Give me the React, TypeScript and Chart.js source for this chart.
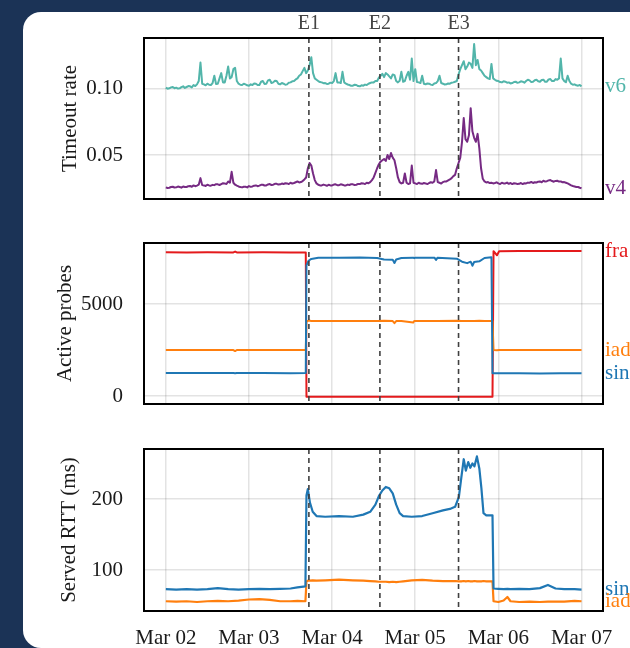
import React, { useEffect, useRef } from "react";
import { Chart, registerables } from "chart.js";

Chart.register(...registerables);

// ---------------- data ----------------
const DAY_HOURS = [0, 24, 48, 72, 96, 120];
const DAY_LABELS = ["Mar 02", "Mar 03", "Mar 04", "Mar 05", "Mar 06", "Mar 07"];
const EVENT_HOURS = [41.3, 61.8, 84.5];
const EVENT_LABELS = ["E1", "E2", "E3"];

// timeout rate sampled every 30 minutes, sample 0 = Mar 02 00:00
const TIMEOUT_STEP_HOURS = 0.5;
const TIMEOUT_V6 = [
  0.101, 0.1002, 0.1005, 0.1012, 0.1015, 0.1006, 0.101, 0.1003, 0.1005, 0.1014, 0.102, 0.1008,
  0.1015, 0.1022, 0.102, 0.1012, 0.103, 0.1022, 0.1035, 0.106, 0.12, 0.104, 0.1035, 0.1028,
  0.104, 0.1032, 0.103, 0.1045, 0.11, 0.1038, 0.104, 0.108, 0.112, 0.105, 0.105, 0.11,
  0.117, 0.108, 0.109, 0.115, 0.116, 0.106, 0.104, 0.1032, 0.103, 0.104, 0.1035, 0.1028,
  0.1025, 0.1035, 0.103, 0.1042, 0.104, 0.103, 0.103, 0.1055, 0.106, 0.1038, 0.104, 0.1065,
  0.107, 0.1045, 0.105, 0.1062, 0.106, 0.104, 0.1035, 0.1045, 0.104, 0.1032, 0.1035, 0.1048,
  0.105, 0.1058, 0.106, 0.1072, 0.108, 0.11, 0.111, 0.1135, 0.116, 0.112, 0.114, 0.118,
  0.124, 0.112, 0.108, 0.107, 0.106, 0.1052, 0.105, 0.1044, 0.1045, 0.1038, 0.104, 0.1048,
  0.1045, 0.106, 0.112, 0.105, 0.105, 0.1045, 0.113, 0.105, 0.104, 0.1034, 0.103, 0.1024,
  0.1025, 0.1032, 0.103, 0.1022, 0.102, 0.1028, 0.1025, 0.1033, 0.103, 0.104, 0.1045, 0.105,
  0.105, 0.106, 0.106, 0.1085, 0.11, 0.1115, 0.109, 0.112, 0.111, 0.1095, 0.108, 0.111,
  0.1105, 0.106, 0.105, 0.1062, 0.113, 0.1055, 0.106, 0.11, 0.113, 0.107, 0.123, 0.106,
  0.115, 0.1052, 0.105, 0.1045, 0.11, 0.104, 0.1035, 0.1042, 0.104, 0.1033, 0.103, 0.1042,
  0.1045, 0.106, 0.11, 0.1045, 0.104, 0.1034, 0.1035, 0.1042, 0.104, 0.1048, 0.105, 0.1055,
  0.106, 0.111, 0.115, 0.118, 0.121, 0.115, 0.117, 0.12, 0.119, 0.116, 0.134, 0.118,
  0.122, 0.115, 0.114, 0.112, 0.11, 0.109, 0.108, 0.1075, 0.119, 0.108, 0.107, 0.1062,
  0.106, 0.1052, 0.105, 0.1058, 0.1055, 0.1048, 0.105, 0.1042, 0.1045, 0.1053, 0.1055, 0.1047,
  0.105, 0.1058, 0.1055, 0.1048, 0.106, 0.107, 0.1065, 0.1052, 0.1055, 0.1066, 0.107, 0.1058,
  0.1055, 0.1068, 0.107, 0.1054, 0.1055, 0.1072, 0.1075, 0.106, 0.106, 0.1075, 0.107, 0.108,
  0.123, 0.108, 0.106, 0.1052, 0.11, 0.106, 0.104, 0.1032, 0.1035, 0.1028, 0.1025, 0.103,
  0.102,
];
const TIMEOUT_V4 = [
  0.0255, 0.025, 0.0252, 0.0258, 0.026, 0.0254, 0.0255, 0.0261, 0.0258, 0.0253, 0.0262, 0.0258,
  0.0258, 0.0264, 0.0265, 0.026, 0.027, 0.0264, 0.0268, 0.0275, 0.0325, 0.0272, 0.027, 0.0266,
  0.0275, 0.027, 0.0268, 0.0274, 0.0272, 0.0279, 0.0278, 0.0273, 0.028, 0.0286, 0.0285, 0.028,
  0.03, 0.029, 0.0373, 0.029, 0.0275, 0.0268, 0.0262, 0.0257, 0.0255, 0.026, 0.026, 0.0255,
  0.0265, 0.0259, 0.0262, 0.0268, 0.027, 0.0264, 0.0268, 0.0274, 0.0275, 0.0269, 0.027, 0.0277,
  0.028, 0.0273, 0.0275, 0.0282, 0.0282, 0.0276, 0.0278, 0.0284, 0.028, 0.0287, 0.0285, 0.028,
  0.029, 0.0284, 0.0288, 0.0294, 0.03, 0.0292, 0.0295, 0.0303, 0.0315, 0.033, 0.04, 0.044,
  0.042, 0.036, 0.031, 0.0285, 0.0275, 0.027, 0.027, 0.0276, 0.0272, 0.0267, 0.0275, 0.027,
  0.027, 0.0276, 0.0278, 0.0272, 0.0272, 0.0278, 0.0275, 0.027, 0.027, 0.0276, 0.0273, 0.0279,
  0.0278, 0.0273, 0.0275, 0.0281, 0.028, 0.0286, 0.0285, 0.028, 0.029, 0.0286, 0.0295, 0.031,
  0.033, 0.0365, 0.04, 0.043, 0.045, 0.046, 0.047, 0.0455, 0.05, 0.047, 0.0515, 0.048,
  0.046, 0.04, 0.033, 0.0295, 0.0285, 0.029, 0.036, 0.029, 0.028, 0.0286, 0.042, 0.029,
  0.0285, 0.028, 0.029, 0.0284, 0.0282, 0.0288, 0.0285, 0.028, 0.0288, 0.0294, 0.029, 0.03,
  0.0386, 0.0295, 0.029, 0.0284, 0.0295, 0.03, 0.03, 0.0308, 0.0315, 0.0325, 0.034, 0.035,
  0.04, 0.044, 0.048, 0.06, 0.078, 0.062, 0.06, 0.065, 0.0855, 0.068, 0.063, 0.06,
  0.066, 0.055, 0.04, 0.032, 0.03, 0.0292, 0.0295, 0.0288, 0.029, 0.0285, 0.0288, 0.0293,
  0.0285, 0.028, 0.029, 0.0285, 0.0285, 0.0291, 0.0282, 0.0288, 0.028, 0.0286, 0.0285, 0.028,
  0.0282, 0.0288, 0.028, 0.0286, 0.0285, 0.0291, 0.029, 0.0296, 0.0288, 0.0294, 0.0292, 0.0298,
  0.03, 0.0294, 0.0305, 0.0299, 0.0302, 0.0308, 0.031, 0.0303, 0.0298, 0.0304, 0.0305, 0.0299,
  0.03, 0.0294, 0.0295, 0.029, 0.0285, 0.0278, 0.027, 0.0265, 0.0262, 0.0258, 0.0258, 0.0252,
  0.0248,
];

const PROBE_HOURS = [
  0, 6, 12, 19.5, 20, 20.5, 28, 36, 40.4, 40.6, 41.2, 42, 44, 50, 56, 61, 63, 65.5, 66, 66.5, 68,
  71.4, 71.7, 72, 77.6, 78, 78.4, 84, 85.5, 87, 88, 88.5, 89, 90.5, 92, 94, 94.3, 94.6, 95.6, 96.2,
  102, 108, 114, 120,
];
const PROBES_FRA = [
  7810, 7800, 7815, 7805, 7850, 7805, 7810, 7800, 7805, -40, -40, -40, -40, -40, -40, -40, -40, -40, -40, -40, -40,
  -40, -40, -40, -40, -40, -40, -40, -40, -40, -40, -40, -40, -40, -40, -40, -40, 7870, 7650, 7870,
  7880, 7875, 7885, 7880,
];
const PROBES_IAD = [
  2500, 2500, 2505, 2495, 2440, 2500, 2505, 2500, 2500, 4050, 4100, 4080, 4070, 4080, 4075, 4080, 4085, 4070, 3960, 4070, 4075,
  3990, 4075, 4070, 4080, 4075, 4080, 4085, 4080, 4075, 4080, 4070, 4080, 4085, 4080, 4080, 4080, 2500, 2490, 2500,
  2500, 2505, 2500, 2500,
];
const PROBES_SIN = [
  1250, 1255, 1245, 1250, 1235, 1250, 1245, 1240, 1245, 7100, 7350, 7450, 7510, 7520, 7530, 7500, 7420, 7400, 7230, 7420, 7500,
  7520, 7490, 7520, 7510, 7400, 7510, 7460, 7300, 7220, 7300, 7080, 7280, 7320, 7500, 7540, 1240, 1230, 1240, 1235,
  1230, 1225, 1230, 1230,
];

const RTT_HOURS = [
  0, 3, 6, 9, 12, 15, 18, 21, 24, 27, 30, 33, 36, 38, 40.3, 40.6, 41, 41.6, 42.4, 43.5, 46, 50, 54, 57, 59,
  60.5, 61.5, 62.5, 63.5, 64.5, 65.5, 66.5, 67.5, 68.5, 71, 74, 77, 80, 82, 83.5, 84.6, 85.3, 86, 86.6,
  87.3, 87.9, 88.5, 89.1, 89.8, 90.5, 91.1, 91.7, 92.5, 94.3, 94.6, 96, 97.5, 98.6, 99.5, 102, 105, 108,
  110.3, 112.5, 115, 118, 120,
];
const RTT_SIN = [
  73, 72.5, 73, 72.5, 73, 74.5, 73, 72.5, 73, 73.5, 73, 73.5, 74, 75.5, 77, 205, 214, 195, 182, 176, 175, 176, 175, 178, 182,
  192, 204, 212, 217, 215, 208, 192, 180, 176, 175, 176, 180, 184, 186, 189, 203, 230, 256, 240,
  252, 244, 250, 246, 260, 243, 215, 180, 177, 177, 74, 73.5, 73, 73.5, 73, 73.5, 73, 74.5,
  79, 74, 73, 73, 72.5,
];
const RTT_IAD = [
  56, 55.5, 56, 55, 56, 56.5, 56, 57, 58.5, 59, 58, 56, 56, 56.5, 56, 84, 85, 85, 85.5, 85, 85.5, 86.5, 85.5, 85, 84.5,
  84, 83.5, 83.5, 83.5, 83, 83.5, 83, 83.5, 84, 85.5, 86, 85, 84.5, 84.5, 84.5, 84, 84, 84.5, 84,
  84.5, 84, 84, 84.5, 84, 84, 84, 84.5, 84, 84, 56, 55, 57, 62, 56, 55, 55.5, 55,
  55.5, 55.5, 55.5, 56.5, 56,
];

const TIMEOUT_TICKS = [0.05, 0.1];
const TIMEOUT_TICK_LABELS = ["0.05", "0.10"];
const PROBE_TICKS = [0, 5000];
const PROBE_TICK_LABELS = ["0", "5000"];
const RTT_TICKS = [100, 200];
const RTT_TICK_LABELS = ["100", "200"];

// ---------------- styling ----------------
const FONT = '"Liberation Serif", "DejaVu Serif", serif';
const TEXT = "#1a1a1a";
const GRID = "rgba(0,0,0,0.11)";
const NAVY = "#1b3356";
const C_V6 = "#52b5aa";
const C_V4 = "#762a83";
const C_FRA = "#e41a1c";
const C_IAD = "#ff7f0e";
const C_SIN = "#1f77b4";

const X_MIN = -6.3;
const X_MAX = 126.2;

const decorPlugin = {
  id: "decor",
  afterDatasetsDraw(chart: any) {
    const { ctx, chartArea: a, scales } = chart;
    ctx.save();
    ctx.strokeStyle = "#404040";
    ctx.lineWidth = 1.6;
    ctx.setLineDash([5, 4]);
    EVENT_HOURS.forEach((h) => {
      const px = scales.x.getPixelForValue(h);
      ctx.beginPath();
      ctx.moveTo(px, a.top);
      ctx.lineTo(px, a.bottom);
      ctx.stroke();
    });
    ctx.restore();
  },
  afterDraw(chart: any, _args: any, opts: any) {
    const { ctx, chartArea: a, scales } = chart;
    ctx.save();
    ctx.strokeStyle = "#000";
    ctx.lineWidth = 2;
    ctx.strokeRect(a.left, a.top, a.right - a.left, a.bottom - a.top);
    if (opts.eventLabels) {
      ctx.fillStyle = "#444";
      ctx.font = `20px ${FONT}`;
      ctx.textAlign = "center";
      ctx.textBaseline = "alphabetic";
      EVENT_HOURS.forEach((h, i) => {
        ctx.fillText(EVENT_LABELS[i], scales.x.getPixelForValue(h), a.top - 9);
      });
    }
    ctx.font = `21px ${FONT}`;
    ctx.textAlign = "left";
    ctx.textBaseline = "middle";
    chart.data.datasets.forEach((ds: any) => {
      const last = ds.data[ds.data.length - 1];
      ctx.fillStyle = ds.borderColor;
      ctx.fillText(ds.label, a.right + 2, scales.y.getPixelForValue(last.y));
    });
    ctx.restore();
  },
};

type Series = { label: string; color: string; xs: number[] | null; ys: number[] };
type PanelCfg = {
  top: number;
  height: number;
  padTop: number;
  padBottom: number;
  xHeight: number;
  showX: boolean;
  eventLabels: boolean;
  yMin: number;
  yMax: number;
  yTicks: number[];
  yTickLabels: string[];
  yTitle: string;
  titlePad: number;
  lineWidth: number;
  series: Series[];
};

const PANELS: PanelCfg[] = [
  {
    top: 0, height: 215, padTop: 38, padBottom: 16, xHeight: 0, showX: false, eventLabels: true,
    yMin: 0.0167, yMax: 0.1386, yTicks: TIMEOUT_TICKS, yTickLabels: TIMEOUT_TICK_LABELS,
    yTitle: "Timeout rate", titlePad: 58, lineWidth: 2,
    series: [
      { label: "v6", color: C_V6, xs: null, ys: TIMEOUT_V6 },
      { label: "v4", color: C_V4, xs: null, ys: TIMEOUT_V4 },
    ],
  },
  {
    top: 215, height: 210, padTop: 28, padBottom: 21, xHeight: 0, showX: false, eventLabels: false,
    yMin: -435, yMax: 8315, yTicks: PROBE_TICKS, yTickLabels: PROBE_TICK_LABELS,
    yTitle: "Active probes", titlePad: 53, lineWidth: 2,
    series: [
      { label: "sin", color: C_SIN, xs: PROBE_HOURS, ys: PROBES_SIN },
      { label: "iad", color: C_IAD, xs: PROBE_HOURS, ys: PROBES_IAD },
      { label: "fra", color: C_FRA, xs: PROBE_HOURS, ys: PROBES_FRA },
    ],
  },
  {
    top: 425, height: 223, padTop: 24, padBottom: 0, xHeight: 37, showX: true, eventLabels: false,
    yMin: 42.3, yMax: 270.4, yTicks: RTT_TICKS, yTickLabels: RTT_TICK_LABELS,
    yTitle: "Served RTT (ms)", titlePad: 57, lineWidth: 2.2,
    series: [
      { label: "sin", color: C_SIN, xs: RTT_HOURS, ys: RTT_SIN },
      { label: "iad", color: C_IAD, xs: RTT_HOURS, ys: RTT_IAD },
    ],
  },
];

function Panel({ cfg }: { cfg: PanelCfg }) {
  const ref = useRef<HTMLCanvasElement>(null);
  useEffect(() => {
    const chart = new Chart(ref.current as HTMLCanvasElement, {
      type: "line",
      data: {
        datasets: cfg.series.map((s) => ({
          label: s.label,
          borderColor: s.color,
          backgroundColor: s.color,
          borderWidth: cfg.lineWidth,
          pointRadius: 0,
          tension: 0,
          borderJoinStyle: "round" as const,
          data: s.ys.map((y, i) => ({ x: s.xs ? s.xs[i] : i * TIMEOUT_STEP_HOURS, y })),
        })),
      },
      options: {
        animation: false,
        responsive: false,
        devicePixelRatio: 1,
        events: [],
        layout: {
          autoPadding: false,
          padding: { left: 0, right: 27, top: cfg.padTop, bottom: cfg.padBottom },
        },
        plugins: {
          legend: { display: false },
          tooltip: { enabled: false },
          decor: { eventLabels: cfg.eventLabels },
        } as any,
        scales: {
          x: {
            type: "linear",
            min: X_MIN,
            max: X_MAX,
            border: { display: false },
            grid: { color: GRID, lineWidth: 1.5, drawTicks: false },
            afterBuildTicks: (scale: any) => {
              scale.ticks = DAY_HOURS.map((value) => ({ value }));
            },
            afterFit: (scale: any) => {
              scale.height = cfg.xHeight;
              scale.paddingLeft = 0;
              scale.paddingRight = 0;
            },
            ticks: {
              display: cfg.showX,
              padding: 15,
              maxRotation: 0,
              autoSkip: false,
              color: TEXT,
              font: { family: FONT, size: 21 },
              callback: (v: any) => {
                const i = DAY_HOURS.indexOf(Number(v));
                return i >= 0 ? DAY_LABELS[i] : "";
              },
            },
          },
          y: {
            type: "linear",
            min: cfg.yMin,
            max: cfg.yMax,
            border: { display: false },
            grid: { color: GRID, lineWidth: 1.5, drawTicks: false },
            afterBuildTicks: (scale: any) => {
              scale.ticks = cfg.yTicks.map((value) => ({ value }));
            },
            afterFit: (scale: any) => {
              scale.width = 144;
              scale.paddingTop = 0;
              scale.paddingBottom = 0;
            },
            title: {
              display: true,
              text: cfg.yTitle,
              color: TEXT,
              font: { family: FONT, size: 21 },
              padding: { top: cfg.titlePad, bottom: 0 },
            },
            ticks: {
              padding: 21,
              color: TEXT,
              font: { family: FONT, size: 21 },
              callback: (v: any) => {
                const i = cfg.yTicks.indexOf(Number(v));
                return i >= 0 ? cfg.yTickLabels[i] : "";
              },
            },
          },
        },
      },
      plugins: [decorPlugin as any],
    });
    return () => chart.destroy();
  }, [cfg]);
  return (
    <canvas
      ref={ref}
      width={630}
      height={cfg.height}
      style={{ position: "absolute", left: 0, top: cfg.top, width: 630, height: cfg.height }}
    />
  );
}

export default function App() {
  return (
    <div
      style={{
        position: "fixed",
        left: 0,
        top: 0,
        width: 630,
        height: 648,
        background: NAVY,
        overflow: "hidden",
      }}
    >
      <div
        style={{
          position: "absolute",
          left: 23,
          top: 12,
          width: 660,
          height: 636,
          background: "#ffffff",
          borderRadius: 18,
        }}
      />
      {PANELS.map((p, i) => (
        <Panel key={i} cfg={p} />
      ))}
    </div>
  );
}
